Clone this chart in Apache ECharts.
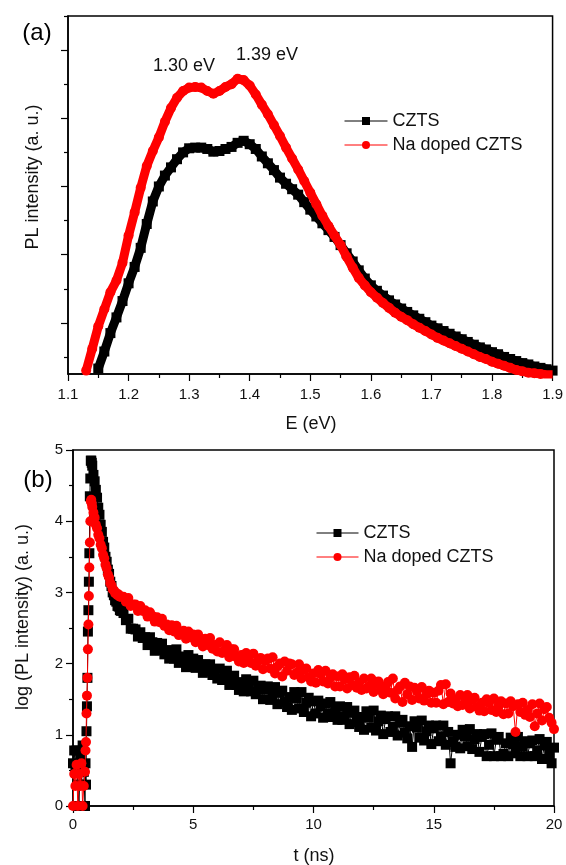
<!DOCTYPE html>
<html><head><meta charset="utf-8">
<script src="https://cdn.jsdelivr.net/npm/echarts@6/dist/echarts.min.js"></script>
<style>html,body{margin:0;padding:0;background:#fff}#c{width:566px;height:865px}</style>
</head><body><div id="c"></div>
<script>
// ---------- panel (a): PL spectra ----------
const energy = [1.13,1.14,1.15,1.16,1.17,1.18,1.19,1.20,1.21,1.22,1.23,1.24,1.25,1.26,1.27,1.28,1.29,1.30,1.31,1.32,1.33,1.34,1.35,1.36,1.37,1.38,1.39,1.40,1.41,1.42,1.43,1.44,1.45,1.46,1.47,1.48,1.49,1.50,1.51,1.52,1.53,1.54,1.55,1.56,1.57,1.58,1.59,1.60,1.61,1.62,1.63,1.64,1.65,1.66,1.67,1.68,1.69,1.70,1.71,1.72,1.73,1.74,1.75,1.76,1.77,1.78,1.79,1.80,1.81,1.82,1.83,1.84,1.85,1.86,1.87,1.88,1.89,1.90];
const plCZTS = [null,null,0.33,0.58,0.85,1.08,1.32,1.58,1.82,2.10,
  2.45,2.78,3.00,3.16,3.28,3.40,3.50,3.56,3.57,3.57,
  3.55,3.51,3.52,3.55,3.58,3.64,3.67,3.62,3.55,3.44,
  3.34,3.24,3.13,3.04,2.96,2.88,2.77,2.66,2.56,2.46,
  2.36,2.26,2.14,2.02,1.90,1.77,1.65,1.55,1.47,1.40,
  1.33,1.27,1.21,1.16,1.11,1.06,1.01,0.96,0.92,0.88,
  0.84,0.80,0.76,0.72,0.68,0.64,0.61,0.57,0.54,0.50,
  0.47,0.44,0.41,0.39,0.36,0.34,0.32,0.30];
const plNa = [0.30,0.62,0.95,1.20,1.45,1.62,1.88,2.28,2.62,2.98,
  3.30,3.52,3.72,3.95,4.15,4.30,4.40,4.45,4.46,4.45,
  4.40,4.36,4.40,4.46,4.50,4.58,4.56,4.48,4.35,4.20,
  4.06,3.90,3.74,3.57,3.41,3.25,3.08,2.91,2.74,2.57,
  2.42,2.28,2.14,1.97,1.81,1.66,1.55,1.45,1.37,1.29,
  1.22,1.15,1.09,1.04,0.98,0.93,0.88,0.83,0.78,0.74,
  0.70,0.66,0.62,0.58,0.54,0.50,0.47,0.43,0.40,0.37,
  0.34,0.31,0.29,0.27,0.26,0.25,0.24,0.24];
const plMajorTicks = [1,2,3,4,5];
const plMinorTicks = [0.5,1.5,2.5,3.5,4.5,5.5];
const peakLabels = ['1.30 eV','1.39 eV'];

// ---------- panel (b): PL decay ----------
const tTime = [0,0.05,0.1,0.15,0.2,0.25,0.3,0.35,0.4,0.45,0.5,
  0.52,0.54,0.56,0.58,0.6,0.62,0.64,0.66,0.68,0.7,0.72,0.74,0.76,0.78,0.8,
  0.85,0.9,0.95,1.0,1.05,1.1,1.15,1.2,1.25,1.3,1.35,1.4,1.45,1.5,1.55,1.6,1.65,1.7,1.75,1.8,1.85,1.9,1.95,2.0,
  2.1,2.2,2.3,2.4,2.5,2.6,2.7,2.8,2.9,3.0,
  3.1,3.2,3.3,3.4,3.5,3.6,3.7,3.8,3.9,4.0,
  4.1,4.2,4.3,4.4,4.5,4.6,4.7,4.8,4.9,5.0,
  5.1,5.2,5.3,5.4,5.5,5.6,5.7,5.8,5.9,6.0,
  6.1,6.2,6.3,6.4,6.5,6.6,6.7,6.8,6.9,7.0,
  7.1,7.2,7.3,7.4,7.5,7.6,7.7,7.8,7.9,8.0,
  8.1,8.2,8.3,8.4,8.5,8.6,8.7,8.8,8.9,9.0,
  9.1,9.2,9.3,9.4,9.5,9.6,9.7,9.8,9.9,10.0,
  10.1,10.2,10.3,10.4,10.5,10.6,10.7,10.8,10.9,11.0,
  11.1,11.2,11.3,11.4,11.5,11.6,11.7,11.8,11.9,12.0,
  12.1,12.2,12.3,12.4,12.5,12.6,12.7,12.8,12.9,13.0,
  13.1,13.2,13.3,13.4,13.5,13.6,13.7,13.8,13.9,14.0,
  14.1,14.2,14.3,14.4,14.5,14.6,14.7,14.8,14.9,15.0,
  15.1,15.2,15.3,15.4,15.5,15.6,15.7,15.8,15.9,16.0,
  16.1,16.2,16.3,16.4,16.5,16.6,16.7,16.8,16.9,17.0,
  17.1,17.2,17.3,17.4,17.5,17.6,17.7,17.8,17.9,18.0,
  18.1,18.2,18.3,18.4,18.5,18.6,18.7,18.8,18.9,19.0,
  19.1,19.2,19.3,19.4,19.5,19.6,19.7,19.8,19.9,20.0];
const trCZTS = [0.60,0.78,0.48,0.78,0.30,0.00,0.70,0.30,0.85,0.48,0.00,
  0.60,0.30,1.05,1.40,1.80,2.45,2.75,3.15,3.55,4.35,4.60,4.85,4.85,4.82,4.78,
  4.65,4.56,4.44,4.33,4.19,4.09,3.95,3.85,3.71,3.63,3.50,3.43,3.32,3.26,3.15,3.09,3.00,2.96,2.89,2.87,2.81,2.80,2.75,2.74,
  2.71,2.61,2.63,2.49,2.49,2.48,2.38,2.44,2.36,2.37,
  2.26,2.37,2.30,2.18,2.29,2.19,2.28,2.13,2.17,2.07,
  2.19,2.07,2.20,2.01,2.07,2.10,1.95,2.12,2.00,2.07,
  1.94,2.05,1.99,1.87,1.99,1.89,1.99,1.84,1.89,1.79,
  1.93,1.77,1.80,1.90,1.70,1.82,1.83,1.70,1.63,1.74,
  1.61,1.78,1.71,1.61,1.76,1.57,1.64,1.69,1.50,1.64,
  1.68,1.49,1.54,1.67,1.43,1.59,1.62,1.46,1.39,1.53,
  1.35,1.60,1.51,1.37,1.60,1.32,1.45,1.52,1.26,1.47,
  1.30,1.48,1.40,1.24,1.44,1.30,1.46,1.25,1.34,1.21,
  1.40,1.21,1.26,1.39,1.15,1.31,1.34,1.18,1.11,1.25,
  1.07,1.33,1.24,1.10,1.34,1.06,1.19,1.27,1.01,1.22,
  1.26,1.04,1.11,1.26,0.99,1.17,1.21,1.03,0.95,1.12,
  0.83,1.19,1.10,0.96,1.20,0.92,1.05,1.13,0.87,1.09,
  1.13,0.91,0.98,1.13,0.86,1.04,0.60,0.90,0.83,1.00,
  0.81,1.07,0.98,0.84,1.08,0.80,0.94,1.01,0.76,0.97,
  1.01,0.70,0.86,1.02,0.70,0.93,0.97,0.70,0.73,0.88,
  0.70,0.96,0.87,0.74,0.97,0.70,0.84,0.91,0.70,0.88,
  0.92,0.70,0.78,0.94,0.66,0.85,0.90,0.72,0.60,0.82];
const trNa = [0.00,0.45,0.28,0.58,0.00,0.45,0.28,0.60,0.00,0.28,0.48,
  0.78,0.90,1.30,1.55,1.80,2.20,2.55,2.95,3.35,3.70,4.00,4.28,4.30,4.25,4.20,
  4.12,4.05,3.95,3.90,3.81,3.76,3.67,3.62,3.53,3.48,3.39,3.34,3.25,3.21,3.13,3.10,3.04,3.03,2.99,2.99,2.96,2.97,2.94,2.94,
  2.94,2.87,2.92,2.81,2.83,2.83,2.74,2.81,2.74,2.75,
  2.66,2.72,2.67,2.59,2.65,2.58,2.63,2.53,2.55,2.47,
  2.54,2.45,2.53,2.40,2.44,2.46,2.35,2.45,2.37,2.41,
  2.30,2.41,2.35,2.24,2.35,2.26,2.36,2.21,2.26,2.17,
  2.30,2.15,2.19,2.26,2.09,2.20,2.20,2.09,2.03,2.12,
  2.01,2.15,2.09,2.01,2.14,1.97,2.04,2.08,1.92,2.04,
  2.07,1.93,2.09,1.86,1.96,2.00,1.82,2.03,1.90,2.00,
  1.99,1.84,1.87,1.99,1.79,1.91,1.93,1.81,1.75,1.86,
  1.73,1.91,1.85,1.75,1.90,1.72,1.80,1.85,1.68,1.82,
  1.68,1.85,1.78,1.65,1.81,1.70,1.83,1.66,1.73,1.63,
  1.79,1.65,1.68,1.79,1.60,1.72,1.75,1.63,1.57,1.68,
  1.74,1.59,1.79,1.51,1.63,1.68,1.46,1.73,1.57,1.68,
  1.49,1.66,1.61,1.51,1.67,1.48,1.57,1.62,1.45,1.59,
  1.45,1.62,1.70,1.43,1.71,1.46,1.58,1.44,1.50,1.40,
  1.56,1.42,1.46,1.56,1.37,1.49,1.52,1.39,1.34,1.45,
  1.33,1.50,1.45,1.35,1.51,1.32,1.41,1.47,1.29,1.44,
  1.30,1.47,1.40,1.04,1.43,1.32,1.45,1.28,1.35,1.25,
  1.43,1.12,1.30,1.44,1.20,1.36,1.39,1.24,1.17,1.08];

const seriesNames = ['CZTS','Na doped CZTS'];
const FONT = '"Liberation Sans", Arial, Helvetica, sans-serif';
const INK = '#111';

const chart = echarts.init(document.getElementById('c'), null, {renderer:'canvas'});
const pairs = (xs, ys) => xs.map((x,i) => [x, ys[i]]);

const axisLine = {show:true, lineStyle:{color:'#000', width:1.5}};
const tickStyle = {color:'#000', width:1.2};

const option = {
  backgroundColor:'#fff',
  animation:false,
  grid:[
    {left:68, top:16, width:485, height:358, show:true, borderColor:'#000', borderWidth:1.5, backgroundColor:'transparent'},
    {left:73, top:450, width:481, height:356, show:true, borderColor:'#000', borderWidth:1.5, backgroundColor:'transparent'}
  ],
  xAxis:[
    {gridIndex:0, type:'value', min:1.1, max:1.9, interval:0.1,
     axisLine:axisLine, splitLine:{show:false},
     axisTick:{show:true, inside:false, length:7, lineStyle:tickStyle},
     minorTick:{show:true, splitNumber:2, length:4, lineStyle:tickStyle},
     axisLabel:{margin:13, fontSize:15, fontFamily:FONT, color:INK, formatter:v=>v.toFixed(1)}},
    {gridIndex:1, type:'value', min:0, max:20, interval:5,
     axisLine:axisLine, splitLine:{show:false},
     axisTick:{show:true, inside:false, length:7, lineStyle:tickStyle},
     minorTick:{show:true, splitNumber:2, length:4, lineStyle:tickStyle},
     axisLabel:{margin:11, fontSize:15, fontFamily:FONT, color:INK, formatter:v=>String(Math.round(v))}}
  ],
  yAxis:[
    {gridIndex:0, type:'value', min:0.25, max:5.5,
     axisLine:axisLine, splitLine:{show:false},
     axisTick:{show:true, inside:false, length:7, lineStyle:tickStyle, customValues:plMajorTicks},
     axisLabel:{show:false}},
    {gridIndex:0, type:'value', min:0.25, max:5.5, position:'left',
     axisLine:{show:false}, splitLine:{show:false},
     axisTick:{show:true, inside:false, length:4, lineStyle:tickStyle, customValues:plMinorTicks},
     axisLabel:{show:false}},
    {gridIndex:1, type:'value', min:0, max:5, interval:1,
     axisLine:axisLine, splitLine:{show:false},
     axisTick:{show:true, inside:false, length:7, lineStyle:tickStyle},
     minorTick:{show:true, splitNumber:2, length:4, lineStyle:tickStyle},
     axisLabel:{margin:10, fontSize:15, fontFamily:FONT, color:INK}}
  ],
  legend:[
    {data:[seriesNames[0]], orient:'vertical', left:339, top:107, itemWidth:43, itemHeight:10, selectedMode:false,
     lineStyle:{width:1}, textStyle:{fontSize:18, fontFamily:FONT, color:INK}},
    {data:[seriesNames[1]], orient:'vertical', left:339, top:131, itemWidth:43, itemHeight:10, selectedMode:false,
     lineStyle:{width:1}, textStyle:{fontSize:18, fontFamily:FONT, color:INK}},
    {data:[seriesNames[0]], orient:'vertical', left:311, top:519, itemWidth:42, itemHeight:10, selectedMode:false,
     lineStyle:{width:1}, textStyle:{fontSize:18, fontFamily:FONT, color:INK}},
    {data:[seriesNames[1]], orient:'vertical', left:311, top:543, itemWidth:42, itemHeight:10, selectedMode:false,
     lineStyle:{width:1}, textStyle:{fontSize:18, fontFamily:FONT, color:INK}}
  ],
  series:[
    {name:seriesNames[0], type:'line', xAxisIndex:0, yAxisIndex:0, data:pairs(energy, plCZTS),
     symbol:'rect', symbolSize:10, showSymbol:true, color:'#000',
     lineStyle:{width:9, color:'#000'}, itemStyle:{color:'#000'}, z:2},
    {name:seriesNames[1], type:'line', xAxisIndex:0, yAxisIndex:0, data:pairs(energy, plNa),
     symbol:'circle', symbolSize:10, showSymbol:true, color:'#ff0000',
     lineStyle:{width:9, color:'#ff0000'}, itemStyle:{color:'#ff0000'}, z:3},
    {name:seriesNames[0], type:'line', xAxisIndex:1, yAxisIndex:2, data:pairs(tTime, trCZTS),
     symbol:'rect', symbolSize:10, showSymbol:true, color:'#000',
     lineStyle:{width:1, color:'#000'}, itemStyle:{color:'#000'}, z:2},
    {name:seriesNames[1], type:'line', xAxisIndex:1, yAxisIndex:2, data:pairs(tTime, trNa),
     symbol:'circle', symbolSize:10, showSymbol:true, color:'#ff0000',
     lineStyle:{width:1, color:'#ff0000'}, itemStyle:{color:'#ff0000'}, z:3}
  ],
  graphic:[
    {type:'text', x:37, y:33, style:{text:'(a)', font:'24px '+FONT, fill:'#000', align:'center', verticalAlign:'middle'}},
    {type:'text', x:38, y:480, style:{text:'(b)', font:'24px '+FONT, fill:'#000', align:'center', verticalAlign:'middle'}},
    {type:'text', x:184, y:66, style:{text:peakLabels[0], font:'18px '+FONT, fill:INK, align:'center', verticalAlign:'middle'}},
    {type:'text', x:267, y:55, style:{text:peakLabels[1], font:'18px '+FONT, fill:INK, align:'center', verticalAlign:'middle'}},
    {type:'text', x:33, y:177, rotation:Math.PI/2, style:{text:'PL intensity (a. u.)', font:'18px '+FONT, fill:INK, align:'center', verticalAlign:'middle'}},
    {type:'text', x:311, y:424, style:{text:'E (eV)', font:'18px '+FONT, fill:INK, align:'center', verticalAlign:'middle'}},
    {type:'text', x:23, y:617, rotation:Math.PI/2, style:{text:'log (PL intensity) (a. u.)', font:'18px '+FONT, fill:INK, align:'center', verticalAlign:'middle'}},
    {type:'text', x:314, y:856, style:{text:'t (ns)', font:'18px '+FONT, fill:INK, align:'center', verticalAlign:'middle'}}
  ]
};
chart.setOption(option);
</script>
</body></html>
